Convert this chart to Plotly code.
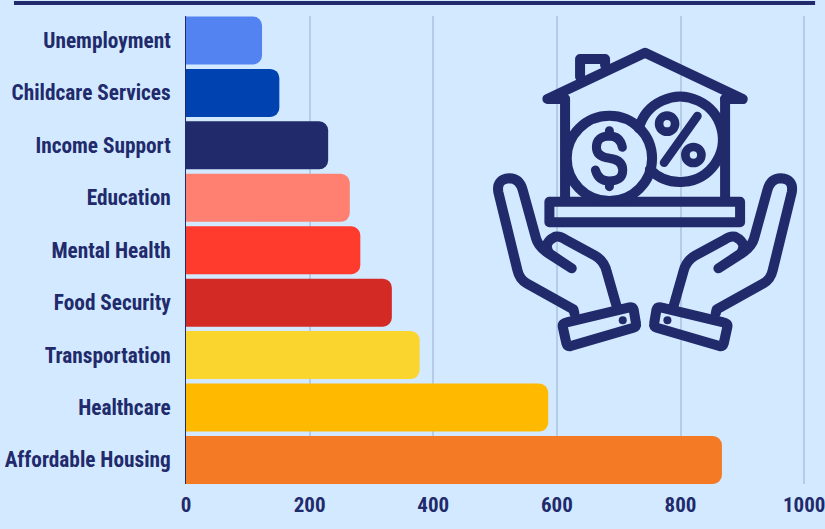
import base64, math
import plotly.graph_objects as go

categories = ["Affordable Housing", "Healthcare", "Transportation", "Food Security", "Mental Health",
              "Education", "Income Support", "Childcare Services", "Unemployment"]
values = [867, 586, 378, 333, 282, 265, 230, 151, 123]
colors = ["#f57a25", "#ffba00", "#fad52e", "#d32a25", "#ff3b2e", "#ff8070", "#212a6b", "#0043b0", "#5383f0"]
x_ticks = [0, 200, 400, 600, 800, 1000]

NAVY = "#212a6b"
BG = "#d2e9ff"
W, H = 825, 529
L, R, T, B = 186, 19.1, 16, 45
PW, PH = W - L - R, H - T - B


def arc(cx, cy, r, a0, a1):
    a0, a1 = math.radians(a0), math.radians(a1)
    return f"M {cx + r * math.cos(a0):.1f} {cy + r * math.sin(a0):.1f} A {r} {r} 0 1 1 {cx + r * math.cos(a1):.1f} {cy + r * math.sin(a1):.1f}"


hand = """
<path d="M 283 850 L 280 838 L 140 760 Q 118 748 112 720 L 55 487 Q 48 448 88 445 Q 118 445 128 480 L 168 625 Q 175 650 205 670 L 275 715 L 210 672 Q 185 640 225 620 Q 240 617 255 628 L 345 677 Q 372 692 380 725 L 410 830"/>
<path d="M 260 877 L 448 832 Q 458 830 461 840 L 468 882 Q 470 890 460 893 L 272 948 Q 262 950 259 940 L 248 890 Q 246 880 260 877 Z"/>
<circle cx="428" cy="871" r="12" fill="{n}" stroke="none"/>
""".replace("{n}", NAVY)

svg = f"""<svg xmlns="http://www.w3.org/2000/svg" viewBox="0 0 990 990" width="990" height="990">
<g fill="none" stroke="{NAVY}" stroke-width="30" stroke-linecap="round" stroke-linejoin="round">
<path d="M 255 207 L 202 207 L 495 68 L 788 207 L 735 207"/>
<path d="M 300 140 V 87 H 375 V 105"/>
<path d="M 255 207 V 510 M 735 207 V 510"/>
<path d="M 208 515 H 780 V 577 H 208 Z"/>
<circle cx="388" cy="385" r="128"/>
<path d="{arc(600, 328, 128, 195, 135)}"/>
<g stroke-width="27">
<path d="M 427 352 Q 420 318 388 318 Q 349 318 349 352 Q 349 380 388 385 Q 428 390 428 421 Q 428 453 388 453 Q 355 453 346 420"/>
<path d="M 388 302 V 318 M 388 455 V 470"/>
</g>
<g stroke-width="26">
<path d="M 652 258 L 552 398"/>
<circle cx="561" cy="281" r="24"/>
<circle cx="640" cy="375" r="24"/>
</g>
{hand}
<g transform="translate(990,0) scale(-1,1)">{hand}</g>
</g>
</svg>"""
icon = "data:image/svg+xml;base64," + base64.b64encode(svg.encode()).decode()

FONT = "Roboto Condensed, Roboto, sans-serif"

fig = go.Figure(go.Bar(
    x=values, y=categories, orientation="h",
    marker=dict(color=colors, line=dict(width=0)),
    hoverinfo="x+y",
))
fig.update_layout(
    width=W, height=H,
    margin=dict(l=L, r=R, t=T, b=B, pad=0, autoexpand=False),
    paper_bgcolor=BG, plot_bgcolor=BG,
    barcornerradius=9, bargap=0.085,
    showlegend=False,
    font=dict(family=FONT, color=NAVY, size=21, weight="bold"),
    xaxis=dict(range=[0, 1003], tickvals=x_ticks, showgrid=True, gridcolor="#b3cce8", gridwidth=1.5,
               zeroline=False, showline=False, ticks="", ticklabelstandoff=6, automargin=False,
               ticklabeloverflow="allow",
               tickfont=dict(family=FONT, size=21, color=NAVY, weight="bold")),
    yaxis=dict(categoryorder="array", categoryarray=categories, showgrid=False, zeroline=False,
               range=[-0.458, 8.467],
               showline=True, linecolor=NAVY, linewidth=1, ticks="", ticklabelstandoff=10, automargin=False,
               layer="below traces",
               tickfont=dict(family=FONT, size=21.3, color=NAVY, weight="bold")),
    shapes=[dict(type="rect", xref="paper", yref="paper", layer="above",
                 x0=(14 - L) / PW, x1=(815 - L) / PW,
                 y0=1 + (T - 5) / PH, y1=1 + (T - 1) / PH,
                 fillcolor=NAVY, line=dict(width=0))],
    images=[dict(source=icon, xref="paper", yref="paper", layer="above",
                 x=(480 - L) / PW, y=1 - (30 - T) / PH,
                 sizex=330 / PW, sizey=330 / PH,
                 xanchor="left", yanchor="top", sizing="stretch")],
)
fig.write_html("out.html", config={"displayModeBar": False},
               post_script="document.body.style.margin='0';")
